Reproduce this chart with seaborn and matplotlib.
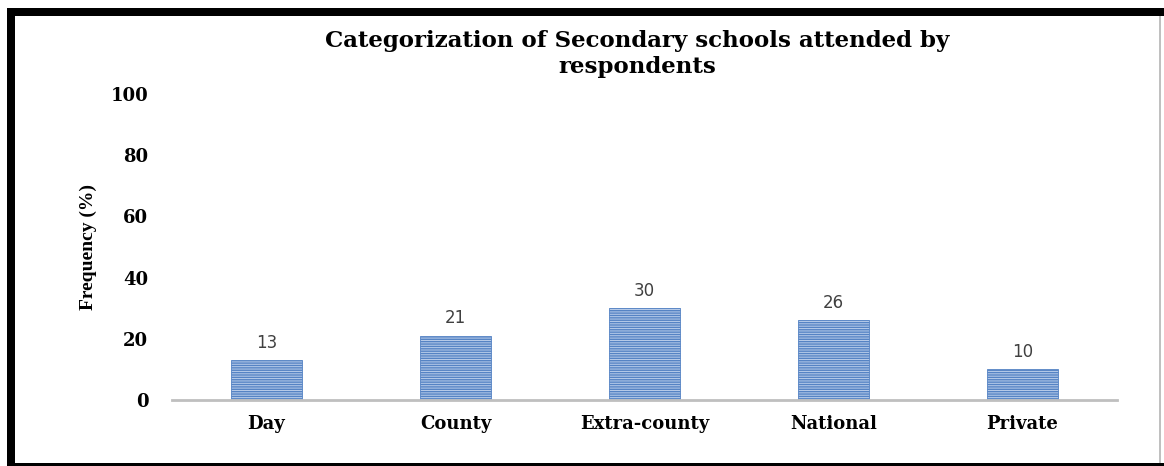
import matplotlib
matplotlib.use("Agg")
import matplotlib.pyplot as plt
import seaborn as sns
from matplotlib.patches import Rectangle

categories = ["Day", "County", "Extra-county", "National", "Private"]
values = [13, 21, 30, 26, 10]
yticks = [0, 20, 40, 60, 80, 100]
title = "Categorization of Secondary schools attended by\nrespondents"
ylabel = "Frequency (%)"

sns.set_theme(style="white")
plt.rcParams["font.family"] = ["DejaVu Serif", "Liberation Serif"]
plt.rcParams["hatch.linewidth"] = 1.0

W, H = 1164, 466
fig = plt.figure(figsize=(W / 100, H / 100), dpi=100)
fig.patch.set_facecolor("white")

def px_rect(x0, y0, x1, y1, color):
    fig.patches.append(Rectangle((x0 / W, 1 - y1 / H), (x1 - x0) / W, (y1 - y0) / H,
                                 transform=fig.transFigure, facecolor=color,
                                 edgecolor="none", zorder=10))

ax = fig.add_axes([172 / W, 1 - 400 / H, (1117 - 172) / W, 306 / H])

sns.barplot(x=categories, y=values, ax=ax, color="#b9cdea", width=0.38,
            saturation=1, linewidth=0.6, edgecolor="#5583c4")
for p in ax.patches:
    p.set_hatch("-------")

ax.set_ylim(0, 100)
ax.set_yticks(yticks)
ax.set_xlim(-0.5, len(categories) - 0.5)
for s in ["top", "right", "left"]:
    ax.spines[s].set_visible(False)
ax.spines["bottom"].set_color("#bfbfbf")
ax.spines["bottom"].set_linewidth(2)
ax.tick_params(axis="both", length=0)
ax.tick_params(axis="y", pad=17)
ax.tick_params(axis="x", pad=11)
for lab in ax.get_yticklabels() + ax.get_xticklabels():
    lab.set_fontweight("bold")
    lab.set_fontsize(13)
    lab.set_color("black")

ax.bar_label(ax.containers[0], labels=[str(v) for v in values], padding=6,
             fontsize=12, color="#404040", family=["DejaVu Sans"])

ax.set_ylabel(ylabel, fontsize=14, fontweight="bold", labelpad=10, color="black",
              family=["Liberation Serif"])
ax.set_xlabel("")
fig.text(637 / W, 1 - 54 / H, title, ha="center", va="center", fontsize=16.5,
         fontweight="bold", linespacing=1.2, color="black")

# frame
px_rect(7, 8, 1164, 16, "black")
px_rect(7, 8, 15, 466, "black")
px_rect(7, 463, 1164, 466, "black")
px_rect(1159, 16, 1161, 463, "#c0c0c0")

fig.savefig("out.png", dpi=100)
